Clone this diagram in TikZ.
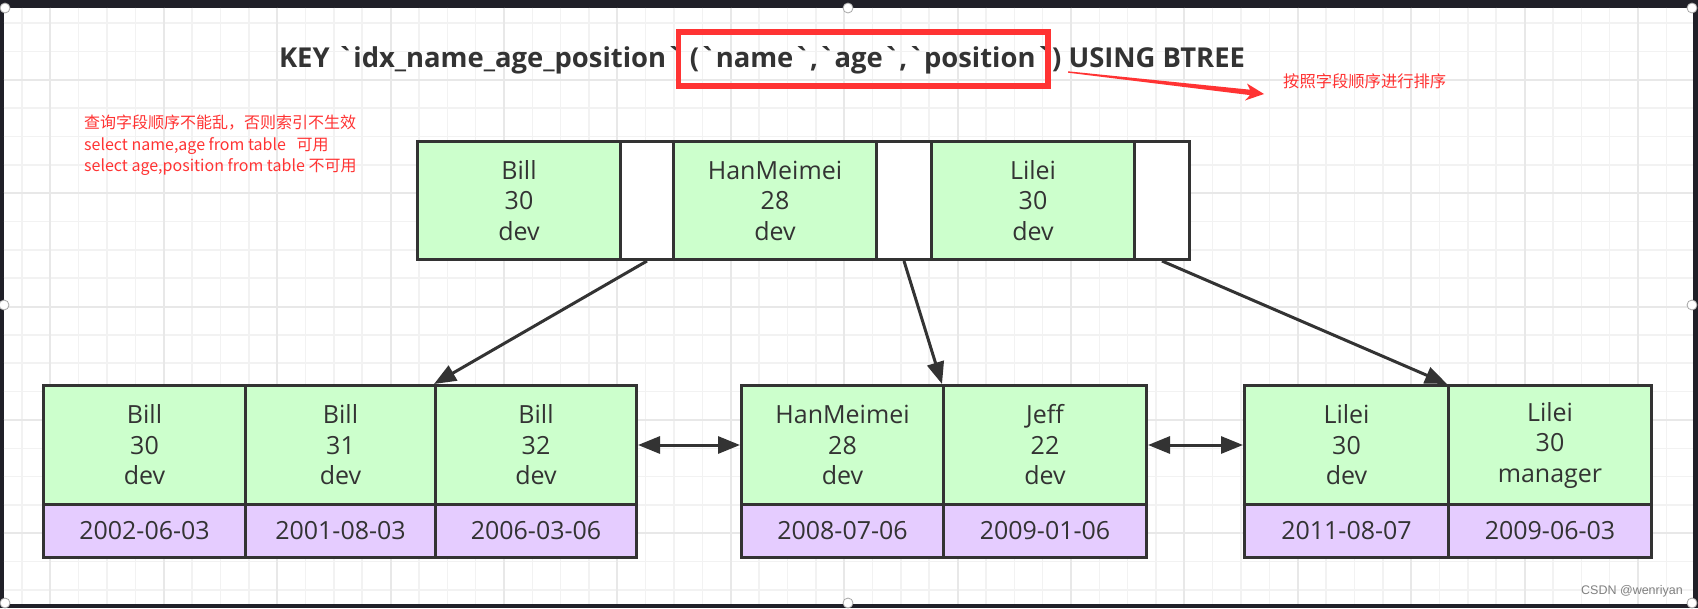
\documentclass[tikz,border=0pt]{standalone}
\usepackage{fontspec}
\setmainfont{Open Sans}
\newfontfamily\titlefont{Open Sans}
\newfontfamily\cjk{Noto Sans CJK SC}
\newfontfamily\markfont{Liberation Sans}
\usetikzlibrary{arrows.meta}

\definecolor{keygreen}{HTML}{CCFFCC}
\definecolor{rowpurple}{HTML}{E5CCFF}
\definecolor{inkgray}{HTML}{333333}
\definecolor{markred}{HTML}{FF3333}
\definecolor{gridminor}{HTML}{F2F2F2}
\definecolor{gridmajor}{HTML}{E8E8E8}
\definecolor{shotdark}{HTML}{202028}

\tikzset{
  cell/.style={draw=inkgray, line width=3pt, inner sep=0pt, anchor=north west,
    text=inkgray, align=center, font=\fontsize{25}{30.5}\selectfont},
  keycell/.style={cell, fill=keygreen, minimum width=203pt, minimum height=118pt},
  leafcell/.style={cell, fill=keygreen, minimum width=202pt, minimum height=119pt},
  ptrcell/.style={cell, fill=white, minimum width=55pt, minimum height=118pt},
  datecell/.style={cell, fill=rowpurple, minimum width=202pt, minimum height=53pt},
  link/.style={draw=inkgray, line width=3pt, -{Triangle[length=22pt,width=17pt]}},
  sibling/.style={link, {Triangle[length=22pt,width=17pt]}-{Triangle[length=22pt,width=17pt]}},
  handle/.style={fill=white, draw=gray!70, line width=0.8pt},
}

\begin{document}
\begin{tikzpicture}[x=1pt,y=-1pt]
  % screenshot frame and grid paper
  \fill[shotdark] (0,0) rectangle (1698,608);
  \fill[white] (3.5,7.5) rectangle (1693,604);
  \foreach \i in {0,...,58}
    \draw[gridminor, line width=1.5pt] ({22+28.35*\i},7.5) -- ({22+28.35*\i},604);
  \foreach \j in {0,...,20}
    \draw[gridminor, line width=1.5pt] (3.5,{23+28.35*\j}) -- (1693,{23+28.35*\j});
  \foreach \i in {0,...,14}
    \draw[gridmajor, line width=2pt] ({50.35+113.4*\i},7.5) -- ({50.35+113.4*\i},604);
  \foreach \j in {0,...,4}
    \draw[gridmajor, line width=2pt] (3.5,{79.7+113.4*\j}) -- (1693,{79.7+113.4*\j});

  % title and notes
  \node[anchor=base, text=inkgray, font=\titlefont\bfseries\fontsize{27.4}{32}\selectfont] (title) at (762,67)
    {KEY `idx\_name\_age\_position` (`name`,`age`,`position`) USING BTREE};
  \draw[markred, line width=5.5pt] (678.5,32) rectangle (1048,86);
  \fill[markred] (1068,71.3) -- (1250,89.7) -- (1247,83.5) -- (1264,94) -- (1245,100.5)
    -- (1250,95.1) -- (1068,72.7) -- cycle;
  \node[anchor=west, inner sep=0pt, text=markred, font=\cjk\fontsize{16.3}{20}\selectfont] (sortnote) at (1283,81)
    {按照字段顺序进行排序};
  \node[anchor=north west, inner sep=0pt, align=left, text=markred, font=\cjk\fontsize{16}{21.5}\selectfont] (querynote) at (84,115)
    {查询字段顺序不能乱，否则索引不生效\\select name,age from table \ \ 可用\\select age,position from table 不可用};

  % root node
  \node[keycell] (kbill) at (416,140) {Bill\\30\\dev};
  \node[ptrcell, minimum width=53pt] (pbill) at (619,140) {};
  \node[keycell] (khan) at (672,140) {HanMeimei\\28\\dev};
  \node[ptrcell] (phan) at (875,140) {};
  \node[keycell] (klilei) at (930,140) {Lilei\\30\\dev};
  \node[ptrcell] (plilei) at (1133,140) {};

  % leaf pages
  \node[leafcell] (bill30) at (42,384) {Bill\\30\\dev};
  \node[leafcell, minimum width=190pt] (bill31) at (244,384) {Bill\\31\\dev};
  \node[leafcell, minimum width=201pt] (bill32) at (434,384) {Bill\\32\\dev};
  \node[datecell] (bill30d) at (42,503) {2002-06-03};
  \node[datecell, minimum width=190pt] (bill31d) at (244,503) {2001-08-03};
  \node[datecell, minimum width=201pt] (bill32d) at (434,503) {2006-03-06};

  \node[leafcell] (han28) at (740,384) {HanMeimei\\28\\dev};
  \node[leafcell, minimum width=203pt] (jeff22) at (942,384) {Jeff\\22\\dev};
  \node[datecell] (han28d) at (740,503) {2008-07-06};
  \node[datecell, minimum width=203pt] (jeff22d) at (942,503) {2009-01-06};

  \node[leafcell, minimum width=204pt] (lilei30) at (1243,384) {Lilei\\30\\dev};
  \node[leafcell, minimum width=203pt] (lileimgr) at (1447,384) {Lilei\\30\\manager};
  \node[datecell, minimum width=204pt] (lilei30d) at (1243,503) {2011-08-07};
  \node[datecell, minimum width=203pt] (lileimgrd) at (1447,503) {2009-06-03};

  % pointers
  \draw[link] (pbill.south) -- (bill32.north west);
  \draw[link] (phan.south) -- (jeff22.north west);
  \draw[link] (plilei.south) -- (lileimgr.north west);
  \draw[sibling] (bill32.east) -- (han28.west);
  \draw[sibling] (jeff22.east) -- (lilei30.west);

  \node[anchor=east, inner sep=0pt, text=gray, font=\markfont\fontsize{12.5}{14}\selectfont] (mark) at (1683,591)
    {CSDN @wenriyan};
  \foreach \hx/\hy in {5/8, 848/8, 1692/8, 4/305, 1692/305, 5/603, 848/603, 1692/603}
    \draw[handle] (\hx,\hy) circle[radius=5pt];
  \pgfresetboundingbox
  \useasboundingbox (0,0) rectangle (1698,608);
\end{tikzpicture}
\end{document}
